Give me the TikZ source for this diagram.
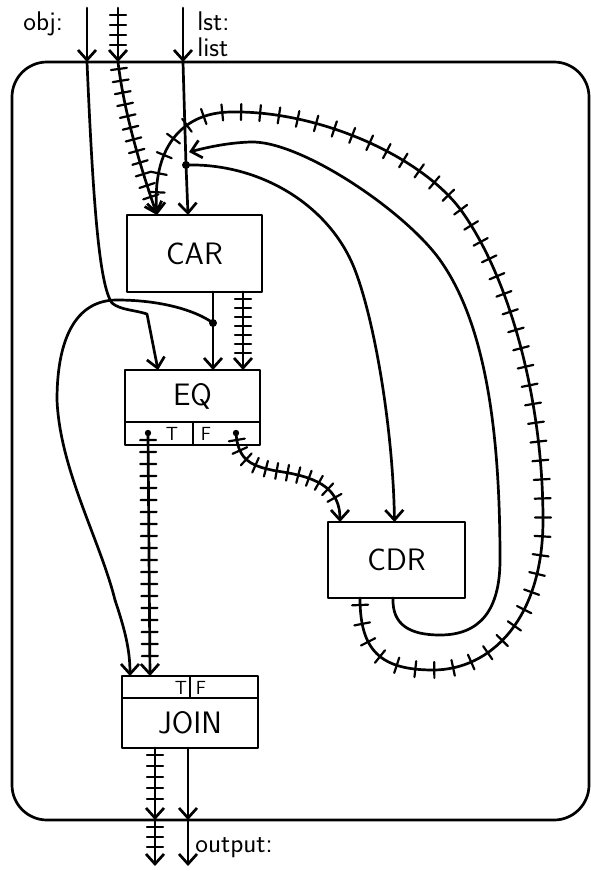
\documentclass[tikz,border=0pt]{standalone}
\usepackage{tikz}
\usetikzlibrary{arrows.meta,decorations.markings}

\begin{document}
\begin{tikzpicture}[x=1pt,y=-1pt,>={Straight Barb[length=10pt,width=18pt]},
  line width=2.7pt,line cap=round,line join=round,font=\sffamily,
  box/.style={draw,line width=2.4pt,inner sep=0pt,outer sep=0pt,font=\sffamily\fontsize{31}{33}\selectfont},
  tf/.style={inner sep=0pt,font=\sffamily\fontsize{19}{20}\selectfont},
  txt/.style={inner sep=0pt,font=\sffamily\fontsize{27}{28}\selectfont},
  hatch/.style={postaction={decorate,decoration={markings,
    mark=between positions 7pt and -15pt step #1 with {\draw[-,line width=2.2pt] (0pt,-8pt) -- (0pt,8pt);}}}},
  hatch/.default=10pt]
\useasboundingbox (0,0) rectangle (591,871);
% frame and boxes
\node[draw,rounded corners=35pt,minimum width=577pt,minimum height=758pt,inner sep=0pt] (frame) at (300.5,441) {};
\node[box,minimum width=135pt,minimum height=77pt] (car) at (194.5,253.5) {CAR};
\node[box,minimum width=135pt,minimum height=52pt] (eq) at (192.5,396) {EQ};
\node[box,minimum width=135pt,minimum height=23pt,anchor=north] (eqtf) at (eq.south) {};
\node[box,minimum width=137pt,minimum height=76pt] (cdr) at (396.5,560) {CDR};
\node[box,minimum width=136pt,minimum height=22pt] (jointf) at (190,687) {};
\node[box,minimum width=136pt,minimum height=50pt,anchor=north] (join) at (jointf.south) {JOIN};
\draw[line width=2pt] (eqtf.north) -- (eqtf.south);
\draw[line width=2pt] (jointf.north) -- (jointf.south);
\node[tf] (eqtlbl) at (172,434) {T};
\node[tf] (eqflbl) at (206,434) {F};
\node[tf] (jointlbl) at (181,688) {T};
\node[tf] (joinflbl) at (201,688) {F};
% labels
\node[txt,anchor=west] (objlbl) at (22,24) {obj:};
\node[txt,anchor=base west] (lstlbl) at (196,30) {lst:};
\node[txt,anchor=base west] (listlbl) at (196,56) {list};
\node[txt,anchor=west] (outlbl) at (194,848) {output:};
% points
\coordinate (objtop) at (87,8);
\coordinate (objin) at (87,62);
\coordinate (hattop) at (118,8);
\coordinate (hatin) at (118,62);
\coordinate (lsttop) at (183,8);
\coordinate (lstin) at (183,62);
\coordinate (lstdot) at (186,165);
\coordinate (lstfb) at (189,152);
\coordinate (cardot) at (213,323);
\coordinate (eqtdot) at (148,433);
\coordinate (eqfdot) at (236,433);
\coordinate (outhat) at (155,820);
\coordinate (outval) at (188,820);
\coordinate (outhatend) at (155,866);
\coordinate (outvalend) at (188,866);
% inputs
\draw[->] (objtop) -- (objin);
\draw[->,hatch=10pt] (hattop) -- (hatin);
\draw[->] (lsttop) -- (lstin);
\draw[->] (objin) .. controls (93,200) and (99,285) .. (112,303)
  .. controls (120,310) and (135,310) .. (147,314) -- ([xshift=-34.5pt]eq.north);
\draw[->,hatch=12pt] (hatin) .. controls (125,120) and (145,180) .. ([xshift=-37.5pt]car.north);
\draw (lstin) -- (lstdot);
\draw[->] (lstdot) -- ([xshift=-6.5pt]car.north);
% CAR to EQ and JOIN
\draw (car.south -| cardot) -- (cardot);
\draw[->] (cardot) -- (eq.north -| cardot);
\draw[->,hatch=9pt] ([xshift=48.5pt]car.south) -- ([xshift=50.5pt]eq.north);
\draw[->] (cardot) .. controls (195,310) and (160,300) .. (117,300)
  .. controls (75,300) and (57,340) .. (57,400)
  .. controls (60,470) and (100,540) .. (115,600)
  .. controls (125,630) and (130,650) .. ([xshift=-60pt]jointf.north);
% EQ outputs
\draw[->,hatch=12pt] (eqtdot) -- ([xshift=-40pt]jointf.north);
\draw[->,hatch=11pt] (eqfdot) .. controls (238,460) and (250,467) .. (283,472)
  .. controls (320,478) and (340,490) .. ([xshift=-56.5pt]cdr.north);
% CDR loop
\draw[->] (lstdot) .. controls (260,163) and (330,205) .. (355,270)
  .. controls (375,322) and (393,430) .. ([xshift=-2pt]cdr.north);
\draw[->] ([xshift=-3.5pt]cdr.south) .. controls (392,625) and (410,635) .. (440,635)
  .. controls (480,635) and (500,610) .. (500,560)
  .. controls (500,450) and (490,330) .. (440,260)
  .. controls (405,211) and (300,140) .. (250,142)
  .. controls (225,143) and (205,148) .. (lstfb);
\draw[->,hatch=19pt] ([xshift=-36.5pt]cdr.south) .. controls (360,650) and (380,670) .. (433,670)
  .. controls (490,670) and (543,620) .. (543,520)
  .. controls (543,400) and (510,280) .. (463,213)
  .. controls (425,158) and (320,110) .. (230,112)
  .. controls (180,113) and (152,150) .. ([xshift=-37.5pt]car.north);
\fill (lstdot) circle (4pt);
\fill (cardot) circle (4pt);
\fill (eqtdot) circle (3.2pt);
\fill (eqfdot) circle (3.2pt);
% outputs
\draw[->,hatch=11pt] ([xshift=-35pt]join.south) -- (outhat);
\draw[->] ([xshift=-2pt]join.south) -- (outval);
\draw[->,hatch=10pt] (outhat) -- (outhatend);
\draw[->] (outval) -- (outvalend);
\end{tikzpicture}
\end{document}
